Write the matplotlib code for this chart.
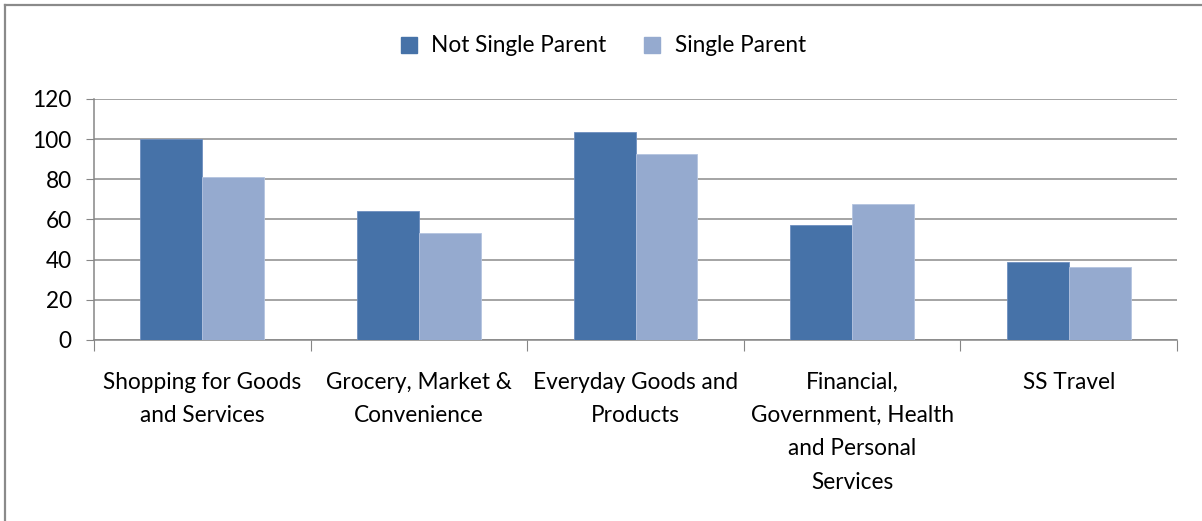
import numpy as np
import matplotlib.pyplot as plt
from matplotlib.lines import Line2D

categories = [
    "Shopping for Goods\nand Services",
    "Grocery, Market &\nConvenience",
    "Everyday Goods and\nProducts",
    "Financial,\nGovernment, Health\nand Personal\nServices",
    "SS Travel",
]
not_single_parent = [100, 64, 103.5, 57.5, 39]
single_parent = [81, 53.5, 92.5, 67.5, 36.5]
series_names = ["Not Single Parent", "Single Parent"]
y_ticks = [0, 20, 40, 60, 80, 100, 120]

plt.rcParams["font.family"] = ["Lato", "DejaVu Sans"]

dark = "#4672A8"
light = "#95AACF"
axis_grey = "#868686"
fs = 16.3

fig = plt.figure(figsize=(12.02, 5.21), dpi=100)
ax = fig.add_axes([94 / 1202, 1 - 340 / 521, (1177 - 94) / 1202, (340 - 99) / 521])

x = np.arange(len(categories))
w = 1 / 3.5
ax.bar(x - w / 2, not_single_parent, w, color=dark, edgecolor="#6E8FBF", linewidth=0.6, zorder=3)
ax.bar(x + w / 2, single_parent, w, color=light, edgecolor="#B4C4E0", linewidth=0.6, zorder=3)

ax.set_xlim(-0.5, len(categories) - 0.5)
ax.set_ylim(0, 120)
ax.set_yticks(y_ticks)
ax.yaxis.grid(True, color="#8C8C8C", linewidth=1.1, zorder=0)
ax.tick_params(axis="y", length=6, color=axis_grey, labelsize=fs, pad=10)

# category boundaries get tick marks, centres get the labels
ax.set_xticks(np.arange(len(categories) + 1) - 0.5)
ax.set_xticklabels([])
ax.tick_params(axis="x", which="major", length=8, color=axis_grey)
ax.set_xticks(x, minor=True)
ax.set_xticklabels(categories, minor=True, fontsize=fs, linespacing=1.72, va="top")
ax.tick_params(axis="x", which="minor", length=0, pad=23)

for s in ["top", "right"]:
    ax.spines[s].set_visible(False)
for s in ["left", "bottom"]:
    ax.spines[s].set_color(axis_grey)
    ax.spines[s].set_linewidth(1.1)

handles = [
    Line2D([], [], marker="s", linestyle="none", markersize=11, color=dark),
    Line2D([], [], marker="s", linestyle="none", markersize=11, color=light),
]
fig.legend(handles, series_names, loc="center", bbox_to_anchor=(596 / 1202, 1 - 46 / 521),
           ncol=2, frameon=False, fontsize=fs, handletextpad=0.0, columnspacing=1.0)

# chart area outline (left and top edges)
fig.add_artist(Line2D([5 / 1202, 5 / 1202], [0, 1 - 5 / 521], color="#8A8A8A", linewidth=1.6))
fig.add_artist(Line2D([5 / 1202, 1], [1 - 5 / 521, 1 - 5 / 521], color="#8A8A8A", linewidth=1.6))

fig.savefig("out.png", dpi=100, facecolor="white")
